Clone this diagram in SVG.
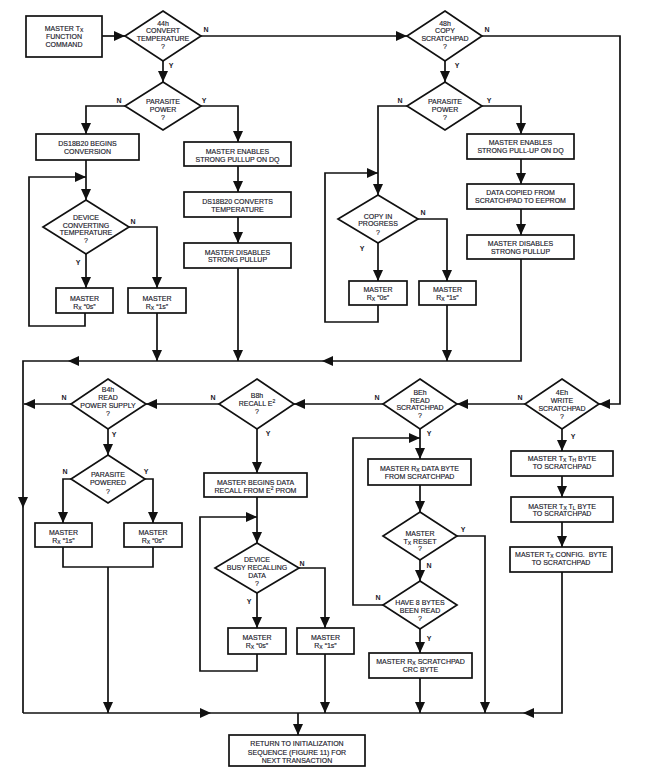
<svg xmlns="http://www.w3.org/2000/svg" width="652" height="771" viewBox="0 0 652 771">
<style>
text { font-family: "Liberation Sans", Arial, sans-serif; font-size: 7px; fill: #1a1a2a; stroke: #1a1a2a; stroke-width: 0.15; text-anchor: middle; white-space: pre; }
.lbl { font-size: 7px; font-weight: bold; stroke-width: 0; }
.sub { font-size: 5px; }
.box { fill: #fff; stroke: #111; stroke-width: 1.7; }
.ln { fill: none; stroke: #111; stroke-width: 1.7; }
.ar { marker-end: url(#ah); }
</style>
<defs>
<marker id="ah" markerUnits="userSpaceOnUse" markerWidth="11" markerHeight="10" refX="11" refY="5" orient="auto">
<path d="M0,0 L11,5 L0,10 z" fill="#111"/>
</marker>
</defs>
<rect width="652" height="771" fill="#fff"/>

<g id="connectors">
<path class="ln ar" d="M102,36 L125,36"/>
<path class="ln ar" d="M201,36 L407,36"/>
<path class="ln ar" d="M163,61 L163,82"/>
<path class="ln ar" d="M125,106 L86,106 L86,134"/>
<path class="ln ar" d="M201,106 L238,106 L238,142"/>
<path class="ln ar" d="M86,160 L86,200"/>
<path class="ln ar" d="M86,254 L86,288"/>
<path class="ln ar" d="M129,227 L157,227 L157,288"/>
<path class="ln ar" d="M85,313 L85,326 L29,326 L29,177 L86,177"/>
<path class="ln ar" d="M157,313 L157,361"/>
<path class="ln ar" d="M238,166 L238,192"/>
<path class="ln ar" d="M238,217 L238,243"/>
<path class="ln ar" d="M238,268 L238,361"/>
<path class="ln ar" d="M482,36 L620,36 L620,404 L599,404"/>
<path class="ln ar" d="M445,61 L445,82"/>
<path class="ln ar" d="M407,106 L378,106 L378,195"/>
<path class="ln ar" d="M482,106 L521,106 L521,134"/>
<path class="ln ar" d="M521,159 L521,184"/>
<path class="ln ar" d="M521,209 L521,235"/>
<path class="ln ar" d="M521,259 L521,361 L322,361"/>
<path class="ln ar" d="M322,361 L68,361"/>
<path class="ln ar" d="M68,361 L23,361 L23,508"/>
<path class="ln" d="M23,508 L23,713"/>
<path class="ln ar" d="M378,243 L378,281"/>
<path class="ln ar" d="M418,219 L447,219 L447,281"/>
<path class="ln ar" d="M378,305 L378,322 L325,322 L325,173 L378,173"/>
<path class="ln ar" d="M447,305 L447,361"/>
<path class="ln ar" d="M219,404 L146,404"/>
<path class="ln ar" d="M383,404 L294,404"/>
<path class="ln ar" d="M525,404 L457,404"/>
<path class="ln ar" d="M71,404 L24,404"/>
<path class="ln ar" d="M108,429 L108,455"/>
<path class="ln ar" d="M71,479 L63,479 L63,523"/>
<path class="ln ar" d="M145,479 L153,479 L153,523"/>
<path class="ln" d="M63,547 L63,567 L153,567 L153,547"/>
<path class="ln ar" d="M108,567 L108,713"/>
<path class="ln ar" d="M257,429 L257,473"/>
<path class="ln ar" d="M257,497 L257,543"/>
<path class="ln ar" d="M257,593 L257,628"/>
<path class="ln ar" d="M299,568 L325,568 L325,628"/>
<path class="ln ar" d="M257,654 L257,671 L200,671 L200,517 L257,517"/>
<path class="ln ar" d="M325,654 L325,713"/>
<path class="ln ar" d="M420,429 L420,459"/>
<path class="ln ar" d="M383,605 L353,605 L353,438 L420,438"/>
<path class="ln ar" d="M420,485 L420,512"/>
<path class="ln ar" d="M457,536 L485,536 L485,713"/>
<path class="ln ar" d="M420,560 L420,581"/>
<path class="ln ar" d="M420,629 L420,653"/>
<path class="ln ar" d="M420,678 L420,713"/>
<path class="ln ar" d="M562,429 L562,451"/>
<path class="ln ar" d="M562,476 L562,497"/>
<path class="ln ar" d="M562,522 L562,547"/>
<path class="ln ar" d="M562,572 L562,713 L523,713"/>
<path class="ln ar" d="M23,713 L211,713"/>
<path class="ln" d="M211,713 L523,713"/>
<path class="ln ar" d="M298,713 L298,735"/>
</g>

<g id="labels">
<text class="lbl" x="206" y="31.5">N</text>
<text class="lbl" x="171" y="67.5">Y</text>
<text class="lbl" x="487" y="31.5">N</text>
<text class="lbl" x="457" y="67.5">Y</text>
<text class="lbl" x="119" y="102.5">N</text>
<text class="lbl" x="204" y="102.5">Y</text>
<text class="lbl" x="400" y="102.5">N</text>
<text class="lbl" x="489" y="102.5">Y</text>
<text class="lbl" x="133" y="223.5">N</text>
<text class="lbl" x="78" y="264.5">Y</text>
<text class="lbl" x="423" y="214.5">N</text>
<text class="lbl" x="362" y="250.5">Y</text>
<text class="lbl" x="64" y="399.5">N</text>
<text class="lbl" x="213" y="399.5">N</text>
<text class="lbl" x="114" y="436.5">Y</text>
<text class="lbl" x="65" y="473.5">N</text>
<text class="lbl" x="146" y="473.5">Y</text>
<text class="lbl" x="268" y="435.5">Y</text>
<text class="lbl" x="377" y="399.5">N</text>
<text class="lbl" x="520" y="399.5">N</text>
<text class="lbl" x="429" y="435.5">Y</text>
<text class="lbl" x="573" y="438.5">Y</text>
<text class="lbl" x="463" y="531.5">Y</text>
<text class="lbl" x="429" y="567.5">N</text>
<text class="lbl" x="378" y="599.5">N</text>
<text class="lbl" x="429" y="640.5">Y</text>
<text class="lbl" x="302" y="565.5">N</text>
<text class="lbl" x="249" y="603.5">Y</text>
</g>

<g id="start">
<rect class="box" x="26" y="16" width="76" height="41"/>
<text x="64" y="30.5">MASTER T<tspan class="sub" dy="1.5">X</tspan></text>
<text x="64" y="38.5">FUNCTION</text>
<text x="64" y="46.5">COMMAND</text>
</g>
<g id="d44h">
<polygon class="box" points="163,11 201,36 163,61 125,36"/>
<text x="163" y="25.5">44h</text>
<text x="163" y="32.5">CONVERT</text>
<text x="163" y="40.5">TEMPERATURE</text>
<text x="163" y="48.5">?</text>
</g>
<g id="d48h">
<polygon class="box" points="445,11 482,36 445,61 407,36"/>
<text x="445" y="25.5">48h</text>
<text x="445" y="32.5">COPY</text>
<text x="445" y="40.5">SCRATCHPAD</text>
<text x="445" y="48.5">?</text>
</g>
<g id="parasite1">
<polygon class="box" points="163,82 201,106 163,130 125,106"/>
<text x="163" y="103.5">PARASITE</text>
<text x="163" y="111.5">POWER</text>
<text x="163" y="119.5">?</text>
</g>
<g id="parasite2">
<polygon class="box" points="445,82 482,106 445,130 407,106"/>
<text x="445" y="103.5">PARASITE</text>
<text x="445" y="111.5">POWER</text>
<text x="445" y="119.5">?</text>
</g>
<g id="begins">
<rect class="box" x="36" y="134" width="103" height="26"/>
<text x="87.5" y="145.5">DS18B20 BEGINS</text>
<text x="87.5" y="154">CONVERSION</text>
</g>
<g id="enables1">
<rect class="box" x="184" y="142" width="107" height="24"/>
<text x="237.5" y="153.5">MASTER ENABLES</text>
<text x="237.5" y="161.5">STRONG PULLUP ON DQ</text>
</g>
<g id="converts">
<rect class="box" x="184" y="192" width="107" height="25"/>
<text x="237.5" y="203.5">DS18B20 CONVERTS</text>
<text x="237.5" y="211.5">TEMPERATURE</text>
</g>
<g id="disables1">
<rect class="box" x="184" y="243" width="107" height="25"/>
<text x="237.5" y="254.5">MASTER DISABLES</text>
<text x="237.5" y="262">STRONG PULLUP</text>
</g>
<g id="dconv">
<polygon class="box" points="86,200 129,227 86,254 43,227"/>
<text x="86" y="219.5">DEVICE</text>
<text x="86" y="227.5">CONVERTING</text>
<text x="86" y="234.5">TEMPERATURE</text>
<text x="86" y="242.5">?</text>
</g>
<g id="m0s_a">
<rect class="box" x="56" y="288" width="57" height="25"/>
<text x="84.5" y="300.5">MASTER</text>
<text x="84.5" y="308.5">R<tspan class="sub" dy="1.5">X</tspan><tspan dy="-1.5"> “0s”</tspan></text>
</g>
<g id="m1s_a">
<rect class="box" x="128" y="288" width="58" height="25"/>
<text x="157" y="300.5">MASTER</text>
<text x="157" y="308.5">R<tspan class="sub" dy="1.5">X</tspan><tspan dy="-1.5"> “1s”</tspan></text>
</g>
<g id="enables2">
<rect class="box" x="467" y="134" width="107" height="25"/>
<text x="520.5" y="144.5">MASTER ENABLES</text>
<text x="520.5" y="152.5">STRONG PULL-UP ON DQ</text>
</g>
<g id="copied">
<rect class="box" x="467" y="184" width="107" height="25"/>
<text x="520.5" y="194.5">DATA COPIED FROM</text>
<text x="520.5" y="202.5">SCRATCHPAD TO EEPROM</text>
</g>
<g id="disables2">
<rect class="box" x="467" y="235" width="107" height="24"/>
<text x="520.5" y="245.5">MASTER DISABLES</text>
<text x="520.5" y="253.5">STRONG PULLUP</text>
</g>
<g id="dcopy">
<polygon class="box" points="378,195 418,219 378,243 338,219"/>
<text x="378" y="218.5">COPY IN</text>
<text x="378" y="225.5">PROGRESS</text>
<text x="378" y="234.5">?</text>
</g>
<g id="m0s_b">
<rect class="box" x="349" y="281" width="58" height="24"/>
<text x="378" y="291.5">MASTER</text>
<text x="378" y="299.5">R<tspan class="sub" dy="1.5">X</tspan><tspan dy="-1.5"> “0s”</tspan></text>
</g>
<g id="m1s_b">
<rect class="box" x="419" y="281" width="57" height="24"/>
<text x="447.5" y="291.5">MASTER</text>
<text x="447.5" y="299.5">R<tspan class="sub" dy="1.5">X</tspan><tspan dy="-1.5"> “1s”</tspan></text>
</g>
<g id="dB4h">
<polygon class="box" points="108,379 146,404 108,429 71,404"/>
<text x="108" y="391.5">B4h</text>
<text x="108" y="399.5">READ</text>
<text x="108" y="407.5">POWER SUPPLY</text>
<text x="108" y="415.5">?</text>
</g>
<g id="dpp">
<polygon class="box" points="108,455 145,479 108,503 71,479"/>
<text x="108" y="476.5">PARASITE</text>
<text x="108" y="484.5">POWERED</text>
<text x="108" y="493.5">?</text>
</g>
<g id="m1s_c">
<rect class="box" x="35" y="523" width="57" height="24"/>
<text x="63.5" y="534.5">MASTER</text>
<text x="63.5" y="542.5">R<tspan class="sub" dy="1.5">X</tspan><tspan dy="-1.5"> “1s”</tspan></text>
</g>
<g id="m0s_c">
<rect class="box" x="124" y="523" width="58" height="24"/>
<text x="153" y="534.5">MASTER</text>
<text x="153" y="542.5">R<tspan class="sub" dy="1.5">X</tspan><tspan dy="-1.5"> “0s”</tspan></text>
</g>
<g id="dB8h">
<polygon class="box" points="257,379 294,404 257,429 219,404"/>
<text x="257" y="397.5">B8h</text>
<text x="257" y="405.5">RECALL E<tspan class="sub" dy="-3">2</tspan></text>
<text x="257" y="413.5">?</text>
</g>
<g id="recall">
<rect class="box" x="204" y="473" width="103" height="24"/>
<text x="255.5" y="484.5">MASTER BEGINS DATA</text>
<text x="255.5" y="492.5">RECALL FROM E<tspan class="sub" dy="-3">2</tspan><tspan dy="3"> PROM</tspan></text>
</g>
<g id="dbusy">
<polygon class="box" points="257,543 299,568 257,593 215,568"/>
<text x="257" y="561.5">DEVICE</text>
<text x="257" y="569.5">BUSY RECALLING</text>
<text x="257" y="577.5">DATA</text>
<text x="257" y="585.5">?</text>
</g>
<g id="m0s_d">
<rect class="box" x="228" y="628" width="58" height="26"/>
<text x="257" y="639.5">MASTER</text>
<text x="257" y="647.5">R<tspan class="sub" dy="1.5">X</tspan><tspan dy="-1.5"> “0s”</tspan></text>
</g>
<g id="m1s_d">
<rect class="box" x="297" y="628" width="57" height="26"/>
<text x="325.5" y="639.5">MASTER</text>
<text x="325.5" y="647.5">R<tspan class="sub" dy="1.5">X</tspan><tspan dy="-1.5"> “1s”</tspan></text>
</g>
<g id="dBEh">
<polygon class="box" points="420,379 457,404 420,429 383,404"/>
<text x="420" y="394.5">BEh</text>
<text x="420" y="402.5">READ</text>
<text x="420" y="409.5">SCRATCHPAD</text>
<text x="420" y="417.5">?</text>
</g>
<g id="d4Eh">
<polygon class="box" points="562,379 599,404 562,429 525,404"/>
<text x="562" y="394.5">4Eh</text>
<text x="562" y="402.5">WRITE</text>
<text x="562" y="410.5">SCRATCHPAD</text>
<text x="562" y="418.5">?</text>
</g>
<g id="rxdata">
<rect class="box" x="368" y="459" width="103" height="26"/>
<text x="419.5" y="470.5">MASTER R<tspan class="sub" dy="1.5">X</tspan><tspan dy="-1.5"> DATA BYTE</tspan></text>
<text x="419.5" y="478.5">FROM SCRATCHPAD</text>
</g>
<g id="dreset">
<polygon class="box" points="420,512 457,536 420,560 383,536"/>
<text x="420" y="535.5">MASTER</text>
<text x="420" y="543.5">T<tspan class="sub" dy="1.5">X</tspan><tspan dy="-1.5"> RESET</tspan></text>
<text x="420" y="550.5">?</text>
</g>
<g id="d8bytes">
<polygon class="box" points="420,581 457,605 420,629 383,605"/>
<text x="420" y="604.5">HAVE 8 BYTES</text>
<text x="420" y="612.5">BEEN READ</text>
<text x="420" y="620.5">?</text>
</g>
<g id="crc">
<rect class="box" x="369" y="653" width="103" height="25"/>
<text x="420.5" y="663.5">MASTER R<tspan class="sub" dy="1.5">X</tspan><tspan dy="-1.5"> SCRATCHPAD</tspan></text>
<text x="420.5" y="671.5">CRC BYTE</text>
</g>
<g id="th">
<rect class="box" x="511" y="451" width="102" height="25"/>
<text x="562" y="460.5">MASTER T<tspan class="sub" dy="1.5">X</tspan><tspan dy="-1.5"> T</tspan><tspan class="sub" dy="1.5">H</tspan><tspan dy="-1.5"> BYTE</tspan></text>
<text x="562" y="468.5">TO SCRATCHPAD</text>
</g>
<g id="tl">
<rect class="box" x="511" y="497" width="102" height="25"/>
<text x="562" y="508.5">MASTER T<tspan class="sub" dy="1.5">X</tspan><tspan dy="-1.5"> T</tspan><tspan class="sub" dy="1.5">L</tspan><tspan dy="-1.5"> BYTE</tspan></text>
<text x="562" y="515.5">TO SCRATCHPAD</text>
</g>
<g id="config">
<rect class="box" x="510" y="547" width="102" height="25"/>
<text x="561" y="556.5">MASTER T<tspan class="sub" dy="1.5">X</tspan><tspan dy="-1.5"> CONFIG.  BYTE</tspan></text>
<text x="561" y="564.5">TO SCRATCHPAD</text>
</g>
<g id="return">
<rect class="box" x="229" y="735" width="136" height="31"/>
<text x="297" y="745.5">RETURN TO INITIALIZATION</text>
<text x="297" y="754.5">SEQUENCE (FIGURE 11) FOR</text>
<text x="297" y="763">NEXT TRANSACTION</text>
</g>
</svg>
